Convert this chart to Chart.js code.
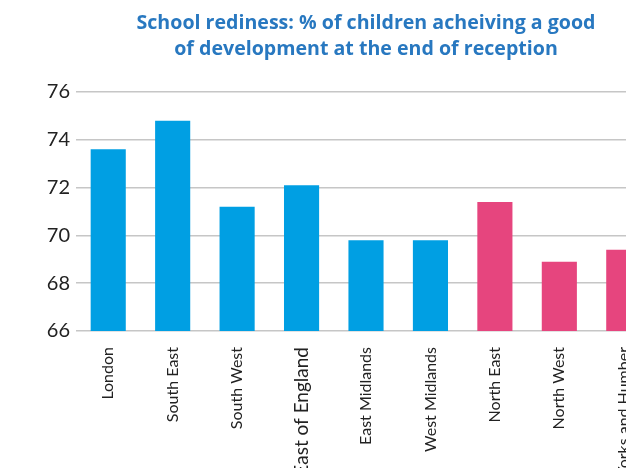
<!DOCTYPE html>
<html>
<head>
<meta charset="utf-8">
<script src="https://cdn.jsdelivr.net/npm/chart.js@4"></script>
<style>
    html, body { margin: 0; padding: 0; background: #fff; overflow: hidden; width: 626px; height: 468px; }
    #title {
        position: absolute; left: 76px; top: 9px; width: 580px;
        text-align: center; font-family: "Open Sans", sans-serif; font-weight: 700;
        font-size: 19.6px; line-height: 26px; color: #2878c0; white-space: nowrap;
    }
    #wrap { position: absolute; left: 0; top: 0; width: 656px; height: 480px; }
</style>
</head>
<body>
<div id="wrap"><canvas id="chart"></canvas></div>
<div id="title">School rediness: % of children acheiving a good<br>of development at the end of reception</div>
<script>
// Vùng và tỉ lệ trẻ đạt mức phát triển tốt (%)
const regions = ['London', 'South East', 'South West', 'East of England', 'East Midlands',
    'West Midlands', 'North East', 'North West', 'Yorks and Humber'];
const values = [73.6, 74.8, 71.2, 72.1, 69.8, 69.8, 71.4, 68.9, 69.4];
// Màu cột: miền nam xanh, miền bắc hồng
const barColors = ['#009fe3', '#009fe3', '#009fe3', '#009fe3', '#009fe3',
    '#009fe3', '#e6457e', '#e6457e', '#e6457e'];
const yMin = 66;
const yMax = 76;
const yStep = 2;

const ctx = document.getElementById('chart').getContext('2d');
const chart = new Chart(ctx, {
    type: 'bar',
    data: {
        labels: regions,
        datasets: [{
            data: values,
            backgroundColor: barColors,
            borderWidth: 0,
            categoryPercentage: 1,
            barPercentage: 0.545
        }]
    },
    options: {
        responsive: true,
        maintainAspectRatio: false,
        animation: false,
        layout: { padding: { top: 92, right: 0, left: 0, bottom: 0 } },
        plugins: {
            legend: { display: false },
            title: { display: false },
            tooltip: { enabled: false }
        },
        scales: {
            x: {
                grid: { display: false },
                border: { display: false },
                ticks: {
                    color: '#222',
                    maxRotation: 90,
                    minRotation: 90,
                    padding: 8,
                    autoSkip: false,
                    // nhãn "East of England" to hơn các nhãn khác
                    font: (c) => ({ family: 'Lato', size: c.index === 3 ? 19 : 16 })
                },
                afterFit: (scale) => { scale.height = 149; }
            },
            y: {
                min: yMin,
                max: yMax,
                grid: { color: '#c6c6c6', lineWidth: 1.5, drawTicks: false },
                border: { display: false },
                ticks: {
                    stepSize: yStep,
                    color: '#222',
                    padding: 6,
                    font: { family: 'Lato', size: 20 }
                },
                afterFit: (scale) => { scale.width = 76; }
            }
        }
    }
});
</script>
</body>
</html>
